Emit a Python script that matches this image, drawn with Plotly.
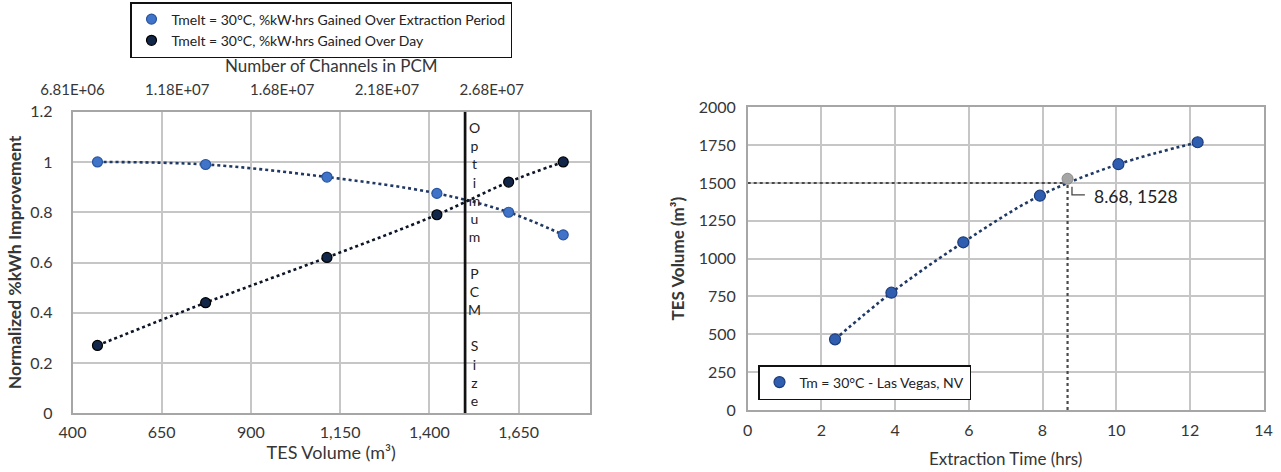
import plotly.graph_objects as go

# ---- Left panel: normalized improvement vs TES volume ----
tes_volume = [470, 773, 1113, 1421, 1622, 1775]
gain_extraction = [1.00, 0.99, 0.94, 0.875, 0.80, 0.71]
gain_day = [0.27, 0.44, 0.62, 0.79, 0.92, 1.00]
optimum_volume = 1500

channel_ticks = [6.81e6, 1.181e7, 1.681e7, 2.181e7, 2.681e7]
channel_labels = ["6.81E+06", "1.18E+07", "1.68E+07", "2.18E+07", "2.68E+07"]
channel_range = [6.81e6, 3.1496e7]

vol_ticks = [400, 650, 900, 1150, 1400, 1650]
vol_labels = ["400", "650", "900", "1,150", "1,400", "1,650"]
norm_ticks = [0, 0.2, 0.4, 0.6, 0.8, 1.0, 1.2]
norm_labels = ["0", "0.2", "0.4", "0.6", "0.8", "1", "1.2"]

# ---- Right panel: TES volume vs extraction time ----
extraction_time = [2.37, 3.90, 5.85, 7.93, 10.06, 12.21]
volume_needed = [467, 775, 1108, 1416, 1624, 1769]
marked_time = 8.68
marked_volume = 1528
guide_volume = 1500

FONT = "Lato, Carlito, Calibri, sans-serif"
TXT = "#363636"
GRID = "#c6c6c6"
FRAME = "#a6a6a6"
NAVY = "#1f3864"

W, H = 1281, 472


def fx(px):
    return px / W


def fy(py):
    return 1 - py / H


fig = go.Figure()

# left panel curves (dotted smooth lines) + markers
fig.add_trace(go.Scatter(x=tes_volume, y=gain_extraction, mode="lines",
                         line=dict(color=NAVY, width=2.6, dash="dot", shape="spline"),
                         showlegend=False, hoverinfo="skip", xaxis="x", yaxis="y"))
fig.add_trace(go.Scatter(x=tes_volume, y=gain_day, mode="lines",
                         line=dict(color="#0b1526", width=2.6, dash="dot", shape="spline"),
                         showlegend=False, hoverinfo="skip", xaxis="x", yaxis="y"))
fig.add_trace(go.Scatter(x=tes_volume, y=gain_extraction, mode="markers",
                         name="Tmelt = 30°C, %kW·hrs Gained Over Extraction Period",
                         marker=dict(size=10, color="#3f74c8", line=dict(color="#2a559f", width=1.2)),
                         xaxis="x", yaxis="y", legend="legend"))
fig.add_trace(go.Scatter(x=tes_volume, y=gain_day, mode="markers",
                         name="Tmelt = 30°C, %kW·hrs Gained Over Day",
                         marker=dict(size=10, color="#12264a", line=dict(color="#000000", width=1.2)),
                         xaxis="x", yaxis="y", legend="legend"))
# invisible trace carrying the channel-count axis
fig.add_trace(go.Scatter(x=channel_range, y=[0, 0], mode="markers",
                         marker=dict(opacity=0), showlegend=False, hoverinfo="skip",
                         xaxis="x3", yaxis="y"))

# right panel: guide lines to the marked point
fig.add_trace(go.Scatter(x=[0, marked_time], y=[guide_volume, guide_volume], mode="lines",
                         line=dict(color="#4a4a4a", width=2.2, dash="dot"),
                         showlegend=False, hoverinfo="skip", xaxis="x2", yaxis="y2"))
fig.add_trace(go.Scatter(x=[marked_time, marked_time], y=[0, guide_volume], mode="lines",
                         line=dict(color="#4a4a4a", width=2.2, dash="dot"),
                         showlegend=False, hoverinfo="skip", xaxis="x2", yaxis="y2"))
fig.add_trace(go.Scatter(x=extraction_time, y=volume_needed, mode="lines",
                         line=dict(color=NAVY, width=2.6, dash="dot", shape="spline"),
                         showlegend=False, hoverinfo="skip", xaxis="x2", yaxis="y2"))
fig.add_trace(go.Scatter(x=extraction_time, y=volume_needed, mode="markers",
                         name="Tm = 30°C - Las Vegas, NV",
                         marker=dict(size=11, color="#2f5db0", line=dict(color="#1c3c7a", width=1.2)),
                         xaxis="x2", yaxis="y2", legend="legend2"))
fig.add_trace(go.Scatter(x=[marked_time], y=[marked_volume], mode="markers",
                         marker=dict(size=11, color="#a5a5a5", line=dict(color="#8a8a8a", width=1)),
                         showlegend=False, hoverinfo="skip", xaxis="x2", yaxis="y2"))

axis_common = dict(showgrid=True, gridcolor=GRID, gridwidth=1.5, showline=True,
                   linecolor=FRAME, linewidth=1.5, mirror=True, zeroline=False,
                   ticks="", automargin=False,
                   tickfont=dict(family=FONT, size=16, color=TXT))

fig.update_layout(
    width=W, height=H,
    margin=dict(l=0, r=0, t=0, b=0, autoexpand=False),
    paper_bgcolor="white", plot_bgcolor="white",
    font=dict(family=FONT, color=TXT),
    xaxis=dict(domain=[fx(72.5), fx(590)], range=[400, 1850], tickvals=vol_ticks,
               ticktext=vol_labels, anchor="y", ticklabelstandoff=4,
               title=dict(text="TES Volume (m³)", font=dict(family=FONT, size=18, color=TXT), standoff=2),
               **axis_common),
    yaxis=dict(domain=[fy(413.3), fy(111.7)], range=[0, 1.2], tickvals=norm_ticks,
               ticktext=norm_labels, anchor="x", ticklabelstandoff=15,
               title=dict(text="<b>Normalized %kWh Improvement</b>",
                          font=dict(family=FONT, size=17.5, color=TXT), standoff=4),
               **axis_common),
    xaxis3=dict(overlaying="x", side="top", anchor="y", range=channel_range,
                tickvals=channel_ticks, ticktext=channel_labels, showgrid=False,
                showline=False, zeroline=False, ticks="", automargin=False,
                ticklabelstandoff=13,
                tickfont=dict(family=FONT, size=15, color=TXT),
                title=dict(text="Number of Channels in PCM",
                           font=dict(family=FONT, size=17, color=TXT), standoff=2)),
    xaxis2=dict(domain=[fx(747.7), fx(1263.6)], range=[0, 14], dtick=2, anchor="y2",
                ticklabelstandoff=5,
                title=dict(text="Extraction Time (hrs)", font=dict(family=FONT, size=17, color=TXT), standoff=15),
                **axis_common),
    yaxis2=dict(domain=[fy(410), fy(107.3)], range=[0, 2000], dtick=250, anchor="x2",
                ticklabelstandoff=7,
                title=dict(text="<b>TES Volume (m³)</b>", font=dict(family=FONT, size=17, color=TXT), standoff=10),
                **axis_common),
    legend=dict(x=fx(130), y=fy(2), xanchor="left", yanchor="top",
                bordercolor="#111111", borderwidth=1.5, bgcolor="white",
                font=dict(family=FONT, size=14, color="#222222"),
                itemwidth=30, tracegroupgap=0),
    legend2=dict(x=fx(758), y=fy(365), xanchor="left", yanchor="top",
                 bordercolor="#111111", borderwidth=1.5, bgcolor="white",
                 font=dict(family=FONT, size=14, color="#222222"),
                 itemwidth=30),
)

# optimum size marker line
fig.add_shape(type="line", xref="x", yref="y", x0=optimum_volume, x1=optimum_volume,
              y0=0, y1=1.2, line=dict(color="#111111", width=2.7))
fig.add_annotation(xref="x", yref="y", x=optimum_volume, y=1.2, xanchor="left", yanchor="top",
                   xshift=1, yshift=-5, showarrow=False, align="center",
                   text="<br>".join(list("Optimum PCM Size")).replace(" ", "&nbsp;"),
                   font=dict(family=FONT, size=14, color="#222222"))

# data label (with elbow leader) for the marked point
fig.add_shape(type="path", xref="x2", yref="y2",
              path=(f"M {marked_time + 0.12},{guide_volume - 25} "
                    f"L {marked_time + 0.12},{guide_volume - 78} "
                    f"L {marked_time + 0.47},{guide_volume - 78}"),
              line=dict(color="#444444", width=1.3))
fig.add_annotation(xref="x2", yref="y2", x=marked_time + 0.67, y=guide_volume - 88,
                   xanchor="left", yanchor="middle", showarrow=False,
                   text=f"{marked_time}, {marked_volume}",
                   font=dict(family=FONT, size=17.5, color="#222222"))

fig.write_html("out.html")
